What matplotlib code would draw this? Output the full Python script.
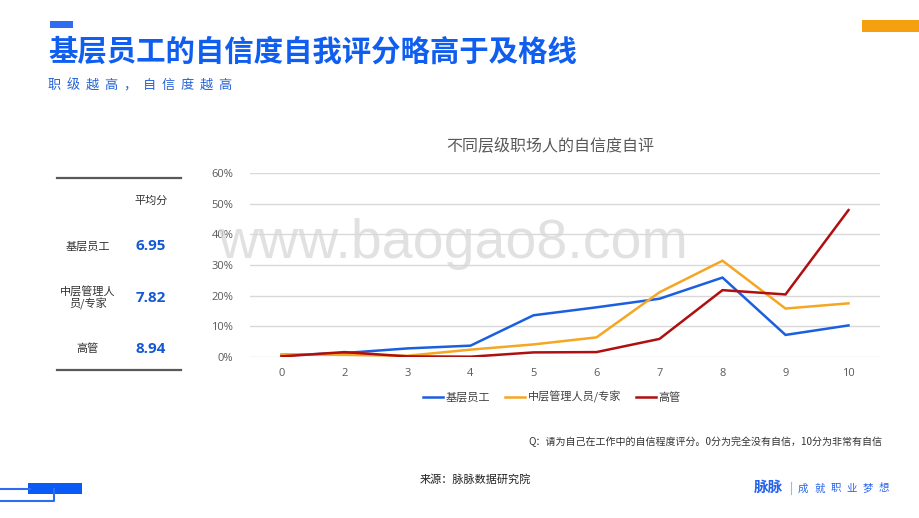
import matplotlib
matplotlib.use("Agg")
import matplotlib.pyplot as plt
from matplotlib.patches import Rectangle
from matplotlib.lines import Line2D

plt.rcParams['font.family'] = ['Noto Sans CJK SC', 'DejaVu Sans']

# ---- data ----
categories = ['0', '2', '3', '4', '5', '6', '7', '8', '9', '10']
series_names = ['基层员工', '中层管理人员/专家', '高管']
basic = [0.5, 1.3, 2.8, 3.7, 13.6, 16.2, 19.0, 25.9, 7.2, 10.3]
middle = [0.9, 0.7, 0.4, 2.4, 4.1, 6.4, 21.1, 31.4, 15.8, 17.5]
senior = [0.2, 1.6, 0.2, 0.1, 1.5, 1.6, 5.9, 21.8, 20.4, 47.9]
yticks = [0, 10, 20, 30, 40, 50, 60]
table_groups = ['基层员工', '中层管理人\n员/专家', '高管']
table_scores = ['6.95', '7.82', '8.94']

colors = ['#1A5FE0', '#F5A623', '#B00F10']
BLUE = '#0F5EF0'

W, H = 920, 518
fig = plt.figure(figsize=(W / 100, H / 100), dpi=100)

def fx(x):
    return x / W

def fy(y):
    return 1 - y / H

# ---- header decorations ----
fig.patches.append(Rectangle((fx(50), fy(28)), fx(23), 7 / H, transform=fig.transFigure,
                             color='#2E6CF2', lw=0))
fig.patches.append(Rectangle((fx(862), fy(32)), fx(58), 12 / H, transform=fig.transFigure,
                             color='#F5A00F', lw=0))
fig.text(fx(48), fy(52), '基层员工的自信度自我评分略高于及格线', fontsize=21.2,
         fontweight='bold', color=BLUE, ha='left', va='center')
sub = '职级越高，自信度越高'
for i, ch in enumerate(sub):
    fig.text(fx(48 + i * 18.9), fy(89), ch, fontsize=9.5, color='#2563D8',
             ha='left', va='baseline')

# ---- bottom-left decoration ----
fig.add_artist(Line2D([0, fx(54), fx(54)], [fy(501), fy(501), fy(489)],
                      transform=fig.transFigure, color='#2E6CF2', lw=1.5))
fig.add_artist(Line2D([0, fx(30)], [fy(489), fy(489)],
                      transform=fig.transFigure, color='#2E6CF2', lw=1.5))
fig.patches.append(Rectangle((fx(28), fy(494)), fx(54), 11 / H, transform=fig.transFigure,
                             color='#0A5AF5', lw=0))

# ---- watermark ----
fig.text(fx(218), fy(244), 'www.baogao8.com', fontsize=40, family='Liberation Sans',
         color='#D8D8D8', alpha=0.75, ha='left', va='center', zorder=0)

# ---- chart ----
ax = fig.add_axes([fx(250), fy(357), fx(630), 184 / H])
x = list(range(len(categories)))
for vals, name, c in zip([basic, middle, senior], series_names, colors):
    ax.plot(x, vals, color=c, lw=1.8, label=name, solid_joinstyle='miter', zorder=3)
ax.set_xlim(-0.5, len(categories) - 0.5)
ax.set_ylim(0, 60)
ax.set_yticks(yticks)
ax.set_yticklabels([f'{v}%' for v in yticks])
ax.set_xticks(x)
ax.set_xticklabels(categories)
ax.grid(axis='y', color='#D9D9D9', lw=1)
ax.set_axisbelow(True)
for s in ax.spines.values():
    s.set_visible(False)
ax.tick_params(axis='both', length=0, labelsize=8, labelcolor='#595959')
ax.tick_params(axis='y', pad=12)
ax.tick_params(axis='x', pad=8)
for lab in ax.get_xticklabels() + ax.get_yticklabels():
    lab.set_family(['Open Sans', 'DejaVu Sans'])
ax.patch.set_alpha(0)

fig.text(fx(550), fy(146), '不同层级职场人的自信度自评', fontsize=11.5, color='#595959',
         ha='center', va='center')
fig.legend(*ax.get_legend_handles_labels(), loc='center', bbox_to_anchor=(fx(552), fy(397)),
           ncol=3, frameon=False, fontsize=8, handlelength=1.8, handletextpad=0.2,
           columnspacing=1.4, labelcolor='#404040')

# ---- left table ----
fig.add_artist(Line2D([fx(57), fx(181)], [fy(178), fy(178)], transform=fig.transFigure,
                      color='#595959', lw=1.6))
fig.add_artist(Line2D([fx(57), fx(181)], [fy(370), fy(370)], transform=fig.transFigure,
                      color='#595959', lw=1.6))
fig.text(fx(151), fy(201), '平均分', fontsize=8, color='#333333', ha='center', va='center')
row_y = [246, 298, 349]
for g, sc, yy in zip(table_groups, table_scores, row_y):
    fig.text(fx(88), fy(yy), g, fontsize=8, color='#333333', ha='center', va='center',
             linespacing=1.05)
    fig.text(fx(151), fy(yy), sc, fontsize=11, fontweight='bold', color='#1558D6',
             ha='center', va='center', family=['Open Sans', 'DejaVu Sans'])

# ---- footnotes ----
fig.text(fx(882), fy(442), 'Q：请为自己在工作中的自信程度评分。0分为完全没有自信，10分为非常有自信',
         fontsize=7.2, style='italic', color='#333333', ha='right', va='center')
fig.text(fx(420), fy(479), '来源：脉脉数据研究院', fontsize=8, color='#222222',
         ha='left', va='center')
fig.text(fx(754), fy(492), '脉脉', fontsize=10.5, fontweight='bold', color='#2563EB',
         ha='left', va='baseline')
fig.add_artist(Line2D([fx(791), fx(791)], [fy(482), fy(494)], transform=fig.transFigure,
                      color='#9DB7EE', lw=0.8))
slogan = '成就职业梦想'
for i, ch in enumerate(slogan):
    fig.text(fx(798 + i * 16.2), fy(491.5), ch, fontsize=7.5, color='#2563EB',
             ha='left', va='baseline')

fig.savefig('out.png', dpi=100)
